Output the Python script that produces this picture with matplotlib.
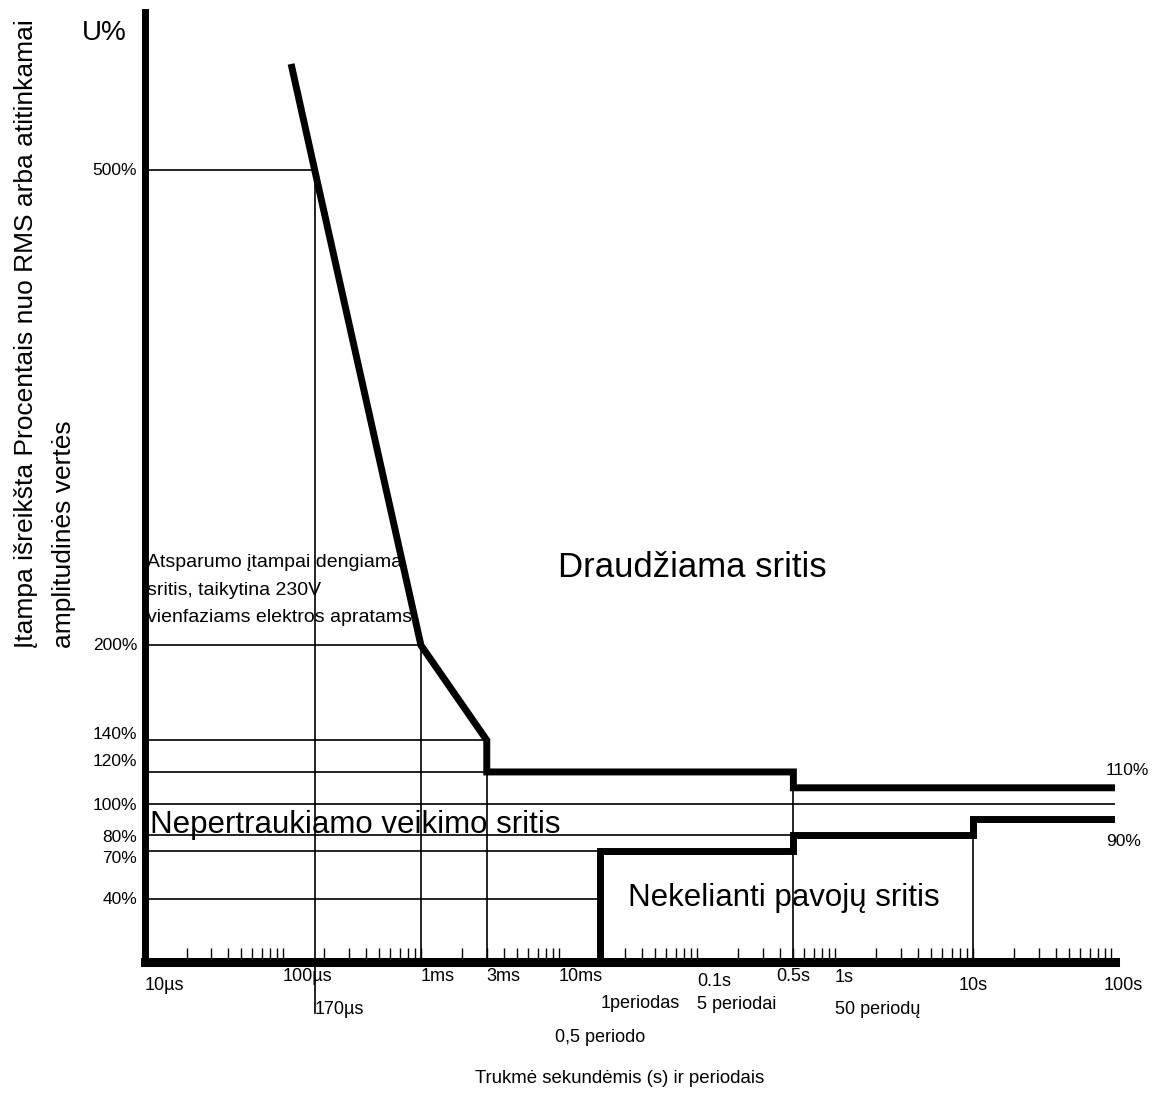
import numpy as np
import matplotlib.pyplot as plt
from matplotlib.ticker import LogLocator, NullFormatter
from matplotlib.transforms import offset_copy

plt.rcParams['font.family'] = ['Liberation Sans', 'DejaVu Sans']

# ribinės kreivės: trukmė (s) ir įtampa (%)
upper_t = [1.16e-4, 1.7e-4, 1e-3, 3e-3, 3e-3, 0.5, 0.5, 107]
upper_u = [565, 500, 200, 140, 120, 120, 110, 110]
lower_t = [0.02, 0.02, 0.5, 0.5, 10, 10, 107]
lower_u = [0, 70, 70, 80, 80, 90, 90]

# horizontal helper lines: level (%) and where they stop (s)
h_levels = [500, 200, 140, 120, 100, 80, 70, 40]
h_ends = [1.7e-4, 1e-3, 3e-3, 3e-3, 107, 0.5, 0.02, 0.02]
h_labels = ["500%", "200%", "140%", "120%", "100%", "80%", "70%", "40%"]

# vertical helper lines: time (s), top (%)
v_times = [1.7e-4, 1e-3, 3e-3, 0.5, 10]
v_tops = [500, 200, 140, 120, 90]

# time labels under the axis
t_labels = ["10µs", "100µs", "170µs", "1ms", "3ms", "10ms", "1periodas",
            "0,5 periodo", "0.1s", "5 periodai", "0.5s", "1s", "50 periodų",
            "10s", "100s"]
t_values = [1e-5, 1e-4, 1.7e-4, 1e-3, 3e-3, 1e-2, 0.02,
            0.02, 0.1, 0.1, 0.5, 1, 1, 10, 100]

fig = plt.figure(figsize=(11.56, 10.95), dpi=100)
ax = fig.add_axes([0.1254, 0.1215, 0.8391, 0.8676])
ax.set_xscale('log')
ax.set_xlim(1e-5, 107)
ax.set_ylim(0, 600)

thin = dict(color='black', lw=1.2, zorder=2)
for lvl, end in zip(h_levels, h_ends):
    ax.plot([1e-5, end], [lvl, lvl], **thin)
for t, top in zip(v_times, v_tops):
    bottom = -32 if t == 1.7e-4 else 0
    ax.plot([t, t], [bottom, top], clip_on=False, **thin)

ax.plot(upper_t, upper_u, color='black', lw=5, solid_joinstyle='miter', zorder=3)
ax.plot(lower_t, lower_u, color='black', lw=5, solid_joinstyle='miter', zorder=3)

# spines
for side in ['top', 'right']:
    ax.spines[side].set_visible(False)
ax.spines['left'].set_linewidth(5)
ax.spines['bottom'].set_linewidth(6.5)
ax.spines['left'].set_zorder(4)
ax.spines['bottom'].set_zorder(4)

ax.xaxis.set_major_locator(LogLocator(base=10, numticks=20))
ax.xaxis.set_minor_locator(LogLocator(base=10, subs=np.arange(2, 10), numticks=20))
ax.xaxis.set_minor_formatter(NullFormatter())
ax.tick_params(axis='x', which='both', direction='in', length=10, width=1,
               labelbottom=False)
ax.tick_params(axis='y', left=False, labelleft=False)

# percent labels on the left
lbl_shift = [0, 0, 3.5, 6.5, -1.5, -1.5, -4.5, -0.5]
ytr = ax.get_yaxis_transform()
for lvl, txt, dy in zip(h_levels, h_labels, lbl_shift):
    ax.text(-0.008, lvl + dy, txt, transform=ytr, ha='right', va='center',
            fontsize=12.5)
ax.text(-0.019, 587, "U%", transform=ytr, ha='right', va='center', fontsize=20)

# end labels on the right, nudged a few pixels left
right_tr = offset_copy(ax.transData, fig=fig, x=-9, y=0, units='dots')
ax.text(107, 121, "110%", transform=right_tr, ha='left', va='center', fontsize=12.5)
ax.text(107, 76, "90%", transform=right_tr, ha='left', va='center', fontsize=12.5)

# time labels
t_y = [-15, -9.5, -30, -9.5, -9.5, -9.5, -26.5, -48, -12.5, -27, -9.5, -10,
       -30, -15, -15]
t_ha = ['left', 'left', 'left', 'left', 'left', 'left', 'left', 'center',
        'left', 'left', 'center', 'left', 'left', 'center', 'center']
for txt, t, y, ha in zip(t_labels, t_values, t_y, t_ha):
    tr = ax.transData
    if txt == "100s":
        tr = offset_copy(ax.transData, fig=fig, x=12, y=0, units='dots')
    ax.text(t, y, txt, transform=tr, ha=ha, va='center', fontsize=13)

# region names
ax.text(0.00985, 243, "Draudžiama sritis", ha='left', va='baseline', fontsize=25)
ax.text(0.005, 81.5, "Nepertraukiamo veikimo sritis", transform=ytr,
        ha='left', va='baseline', fontsize=22.5)
ax.text(0.0316, 35.4, "Nekelianti pavojų sritis", ha='left', va='baseline',
        fontsize=22.5)
ax.text(0.002, 214.6,
        "Atsparumo įtampai dengiama\nsritis, taikytina 230V\nvienfaziams elektros apratams",
        transform=ytr, ha='left', va='baseline', fontsize=14, linespacing=1.82)

fig.text(0.012, 0.408,
         "Įtampa išreikšta Procentais nuo RMS arba atitinkamai\namplitudinės vertės",
         rotation=90, ha='left', va='bottom', fontsize=19, linespacing=1.75,
         multialignment='left')
fig.text(0.536, 0.0155, "Trukmė sekundėmis (s) ir periodais", ha='center',
         va='center', fontsize=13.4)

fig.savefig('out.png', dpi=100)
